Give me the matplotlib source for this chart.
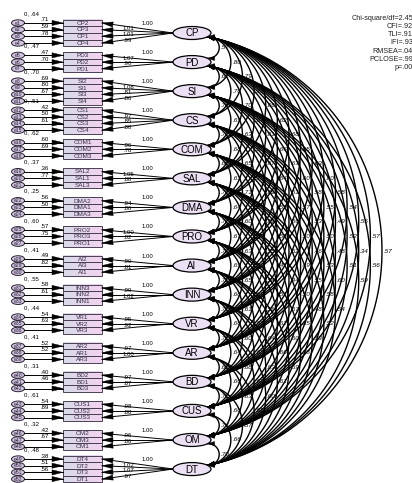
import numpy as np
import matplotlib.pyplot as plt
from matplotlib.patches import Ellipse, Rectangle, Polygon

plt.rcParams['font.family'] = ['Liberation Sans', 'DejaVu Sans']

# latent factors, top to bottom
latents = ['CP', 'PD', 'SI', 'CS', 'COM', 'SAL', 'DMA', 'PRO',
           'AI', 'INN', 'VR', 'AR', 'BD', 'CUS', 'OM', 'DT']

indicators = [['CP2', 'CP3', 'CP1', 'CP4'], ['PD3', 'PD2', 'PD1'],
              ['SI2', 'SI1', 'SI3', 'SI4'], ['CS1', 'CS2', 'CS3', 'CS4'],
              ['COM1', 'COM2', 'COM3'], ['SAL2', 'SAL1', 'SAL3'],
              ['DMA2', 'DMA1', 'DMA3'], ['PRO2', 'PRO3', 'PRO1'],
              ['AI2', 'AI3', 'AI1'], ['INN3', 'INN2', 'INN1'],
              ['VR1', 'VR2', 'VR3'], ['AR2', 'AR1', 'AR3'],
              ['BD2', 'BD1', 'BD3'], ['CUS1', 'CUS2', 'CUS3'],
              ['OM2', 'OM3', 'OM1'], ['DT4', 'DT2', 'DT3', 'DT1']]

# "0, .xx" then the other error labels of each block
err_labels = [['.64', '.71', '.59', '.78'], ['.47', '.47', '.70'],
              ['.70', '.69', '.80', '.67'], ['.51', '.42', '.50', '.61'],
              ['.62', '.60', '.69'], ['.37', '.36', '.77'],
              ['.25', '.56', '.50'], ['.60', '.57', '.75'],
              ['.41', '.49', '.82'], ['.55', '.58', '.61'],
              ['.44', '.54', '.63'], ['.41', '.52', '.52'],
              ['.31', '.40', '.46'], ['.61', '.54', '.89'],
              ['.32', '.42', '.67'], ['.48', '.38', '.51', '.56']]

loadings = [['1.00', '1.01', '1.01', '.99'], ['1.00', '1.07', '.90'],
            ['1.00', '1.08', '.81', '.86'], ['1.00', '.97', '.85', '.88'],
            ['1.00', '.96', '.78'], ['1.00', '1.05', '.88'],
            ['1.00', '.94', '.86'], ['1.00', '1.00', '.82'],
            ['1.00', '.90', '.81'], ['1.00', '.99', '1.02'],
            ['1.00', '.95', '.92'], ['1.00', '.97', '1.00'],
            ['1.00', '.97', '.87'], ['1.00', '.98', '.88'],
            ['1.00', '.96', '.86'], ['1.00', '1.02', '1.07', '.97']]

# covariances: row i holds latent i with every latent below it
cov = [[.57, .80, .79, .71, .66, .62, .68, .65, .63, .60, .58, .54, .55, .57, .57],
       [.62, .76, .70, .64, .61, .66, .63, .60, .58, .55, .49, .52, .34, .56],
       [.74, .69, .63, .60, .67, .64, .61, .57, .53, .50, .48, .51, .59],
       [.72, .68, .65, .70, .62, .59, .56, .50, .46, .53, .60],
       [.69, .63, .71, .66, .62, .58, .52, .49, .55, .58, .54],
       [.73, .64, .60, .59, .55, .47, .44, .50, .48, .52],
       [.70, .67, .63, .60, .54, .51, .57, .55, .53],
       [.74, .69, .65, .59, .56, .62, .60, .58],
       [.72, .68, .61, .58, .64, .66, .59],
       [.75, .66, .60, .65, .63, .61],
       [.71, .64, .68, .62, .60],
       [.69, .66, .63, .58],
       [.72, .60, .57],
       [.74, .66],
       [.70]]

fit_lines = ['Chi-square/df=2.45', 'CFI=.92', 'TLI=.91', 'IFI=.93',
             'RMSEA=.04', 'PCLOSE=.99', 'p=.00']


def head(ax, tip, frm, L=5.0, W=1.8):
    tip = np.asarray(tip, float)
    d = tip - np.asarray(frm, float)
    d /= np.hypot(*d)
    n = np.array([-d[1], d[0]])
    base = tip - L * d
    ax.add_patch(Polygon([tip, base + W * n, base - W * n], closed=True,
                         fc='black', ec='black', lw=0.3, zorder=4))


fig = plt.figure(figsize=(4.12, 4.83), dpi=100)
ax = fig.add_axes([0, 0, 1, 1])
ax.set_xlim(0, 412)
ax.set_ylim(483, 0)
ax.axis('off')

lat_x, lat_w, lat_h = 192, 38, 13
y0, dy, row = 33, 29.07, 6.7
box_l, box_r = 63, 102
err_x = 18

grad = np.linspace(0, 1, 32)[None, :]
cmap = plt.matplotlib.colors.LinearSegmentedColormap.from_list('b', ['#d8dbe8', '#f2d3ef'])

e_num = 1
lat_y = [y0 + dy * i for i in range(len(latents))]
for i, name in enumerate(latents):
    ly = lat_y[i]
    inds = indicators[i]
    n = len(inds)
    for k, ind in enumerate(inds):
        by = ly + (k - (n - 1) / 2) * row
        # indicator box
        ax.imshow(grad, cmap=cmap, extent=(box_l, box_r, by + row / 2, by - row / 2),
                  aspect='auto', zorder=2)
        ax.add_patch(Rectangle((box_l, by - row / 2), box_r - box_l, row, fc='none',
                               ec='#4a3f55', lw=0.7, zorder=3))
        ax.text((box_l + box_r) / 2, by + 0.3, ind, fontsize=4.6, color='#3a2f4a',
                ha='center', va='center', zorder=5)
        # error term
        ax.add_patch(Ellipse((err_x, by), 13, 6.3, fc='#cfc3e0', ec='#2b2233', lw=0.7, zorder=3))
        ax.text(err_x, by + 0.2, 'e%d' % e_num, fontsize=3.6, color='#2b2233',
                ha='center', va='center', zorder=5)
        e_num += 1
        ax.plot([err_x + 6.5, box_l], [by, by], color='black', lw=0.7, zorder=3)
        head(ax, (box_l, by), (err_x, by), L=11, W=2.6)
        # loading path
        ax.plot([lat_x - lat_w / 2, box_r], [ly, by], color='black', lw=0.7, zorder=3)
        head(ax, (box_r, by), (lat_x - lat_w / 2, ly), L=11, W=2.6)
    # error labels
    first_y = ly - (n - 1) / 2 * row
    ax.text(24, first_y - 9.5, '0, ' + err_labels[i][0], fontsize=4.3, va='center',
            ha='left', zorder=5)
    for k, lab in enumerate(err_labels[i][1:]):
        ax.text(40, first_y + k * row - 3, lab, fontsize=4.3, va='center',
                ha='left', zorder=5)
    # loading labels
    lpos = [(147, ly - 9.5), (128, ly - 4), (128, ly + 1.5), (128, ly + 7)]
    for k, lab in enumerate(loadings[i]):
        ax.text(lpos[k][0], lpos[k][1], lab, fontsize=4.3, ha='center',
                va='center', zorder=5)
    # latent ellipse
    ax.add_patch(Ellipse((lat_x, ly), lat_w, lat_h, fc='#ece0f4', ec='black', lw=0.9, zorder=6))
    ax.text(lat_x, ly + 0.5, name, fontsize=7, ha='center', va='center', zorder=7)

# covariance arcs
a = np.radians(35)
for i in range(len(cov)):
    for m, val in enumerate(cov[i]):
        j = i + 1 + m
        p1 = np.array([lat_x + lat_w / 2 * np.cos(a), lat_y[i] + lat_h / 2 * np.sin(a)])
        p2 = np.array([p1[0], lat_y[j] - lat_h / 2 * np.sin(a)])
        c = p2[1] - p1[1]
        s = 0.40 * c + 3
        R = (c * c / 4 + s * s) / (2 * s)
        cx, cy = p1[0] + s - R, (p1[1] + p2[1]) / 2
        t1 = np.arctan2(p1[1] - cy, p1[0] - cx)
        t2 = np.arctan2(p2[1] - cy, p2[0] - cx)
        t = np.linspace(t1, t2, 80)
        xs, ys = cx + R * np.cos(t), cy + R * np.sin(t)
        ax.plot(xs, ys, color='black', lw=1.0, zorder=1)
        head(ax, (xs[0], ys[0]), (xs[3], ys[3]), L=7, W=2.1)
        head(ax, (xs[-1], ys[-1]), (xs[-4], ys[-4]), L=7, W=2.1)
        ax.text(cx + R + 1.5, cy, ('%.2f' % val)[1:], fontsize=4.6, ha='left',
                va='center', zorder=2, style='italic')

# fit statistics
for k, line in enumerate(fit_lines):
    ax.text(413, 18 + k * 8.3, line, fontsize=5.2, ha='right', va='center', color='#222222')

fig.savefig('out.png', dpi=100)
